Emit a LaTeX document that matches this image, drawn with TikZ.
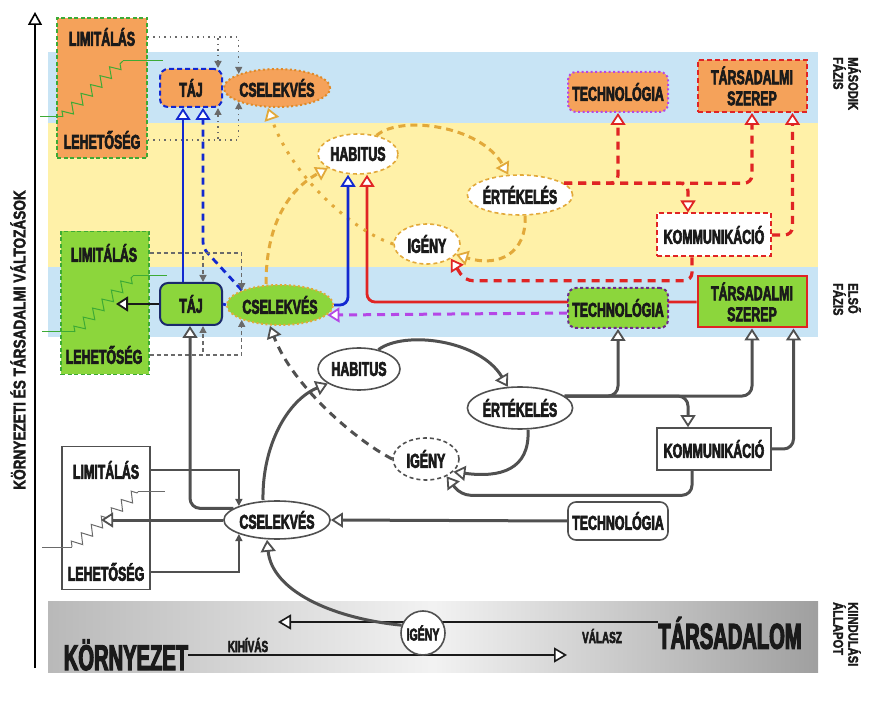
\documentclass[tikz,border=0pt]{standalone}
\usepackage{fontspec}
\setmainfont{Liberation Sans}
\newfontfamily\condfont{Liberation Sans Bold}[FakeStretch=0.62, FakeBold=3]
\newfontfamily\widecond{Liberation Sans Bold}[FakeStretch=0.80, FakeBold=2]
\newfontfamily\bigcond{Liberation Sans Bold}[FakeStretch=0.56, FakeBold=3]
\usetikzlibrary{positioning,calc,arrows.meta,shapes.geometric,backgrounds,decorations.pathmorphing}
\definecolor{bandblue}{HTML}{C8E4F5}
\definecolor{bandyellow}{HTML}{FFF1A8}
\definecolor{fillorange}{HTML}{F5A25A}
\definecolor{fillgreen}{HTML}{8CD63C}
\definecolor{linkgold}{HTML}{E2A93A}
\definecolor{darkorange}{HTML}{E08A28}
\definecolor{linkblue}{HTML}{1228D0}
\definecolor{linkred}{HTML}{E02424}
\definecolor{linkpurple}{HTML}{B547E6}
\definecolor{navy}{HTML}{1B2A6B}
\definecolor{boxgreen}{HTML}{3DAA35}
\definecolor{ink}{HTML}{1A1A1A}
\definecolor{ink2}{HTML}{505050}
\definecolor{ink3}{HTML}{6A6A6A}

\begin{document}
\begin{tikzpicture}[x=1pt, y=1pt,
  lab/.style={font=\condfont\fontsize{20}{21}\selectfont, text=ink, inner sep=0pt, align=center},
  labsm/.style={font=\condfont\fontsize{16}{17}\selectfont, text=ink, inner sep=0pt},
  sidelab/.style={font=\widecond\fontsize{14}{15}\selectfont, text=ink, align=left, rotate=-90, inner sep=0pt, anchor=west},
  rbox/.style={lab, rectangle, rounded corners=8pt, line width=2pt},
  sbox/.style={lab, rectangle, line width=1.6pt},
  oval/.style={lab, ellipse, line width=1.6pt},
  boxdash/.style={line width=1.8pt, dash pattern=on 4pt off 2.5pt},
  opentip/.style={-{Triangle[fill=white,line width=1.8pt,length=12pt,width=15pt]}},
  smalltip/.style={-{Triangle[length=7pt,width=7pt]}},
  blueline/.style={draw=linkblue, line width=2.8pt, opentip},
  bluedash/.style={blueline, dash pattern=on 7pt off 5pt},
  golddash/.style={draw=linkgold, line width=3pt, dash pattern=on 7pt off 5pt, opentip},
  golddot/.style={draw=linkgold, line width=3pt, dash pattern=on 3pt off 7pt, opentip},
  reddash/.style={draw=linkred, line width=3.2pt, dash pattern=on 8pt off 6pt, opentip},
  redline/.style={draw=linkred, line width=2.8pt, opentip},
  purpdash/.style={draw=linkpurple, line width=3pt, dash pattern=on 8pt off 6pt, opentip},
  grayline/.style={draw=ink2, line width=3pt, opentip},
  graydash/.style={grayline, dash pattern=on 8pt off 6pt},
  thindot/.style={draw=ink3, line width=1.4pt, dash pattern=on 1.5pt off 4pt, smalltip},
  thindash/.style={draw=ink3, line width=1.3pt, dash pattern=on 4pt off 3pt, smalltip},
  thinline/.style={draw=ink2, line width=1.3pt, smalltip},
  stairs/.style={line width=1pt, decoration={zigzag, segment length=13pt, amplitude=5pt}},
  flow/.style={draw=ink, line width=1.8pt, -{Triangle[fill=white,line width=1.6pt,length=13pt,width=15pt]}}]
\useasboundingbox (0,0) rectangle (876,-708);
% bands
\begin{scope}[on background layer]
\fill[bandblue] (48,-52) rectangle (818,-123);
\fill[bandyellow] (48,-123) rectangle (818,-267);
\fill[bandblue] (48,-267) rectangle (818,-337);
\shade[left color=gray!55, right color=gray!75, middle color=gray!10] (48,-601) rectangle (818,-672);
\end{scope}
% axis
\coordinate (axbot) at (35,-668);
\coordinate (axtop) at (35,-12);
\draw[line width=2pt, -{Triangle[fill=white,line width=1.6pt,length=13pt,width=14pt]}] (axbot) -- (axtop);
\node[font=\widecond\fontsize{17}{18}\selectfont, text=ink, rotate=90, inner sep=0pt] (axlab) at (18,-340) {KÖRNYEZETI ÉS TÁRSADALMI VÁLTOZÁSOK};
% phase labels
\node[sidelab] (phase2) at (847,-57) {MÁSODIK\\FÁZIS};
\node[sidelab] (phase1) at (847,-283) {ELSŐ\\FÁZIS};
\node[sidelab] (phase0) at (847,-602) {KIINDULÁSI\\ÁLLAPOT};
% second phase
\node[sbox, fill=fillorange, draw=boxgreen, boxdash, minimum width=90pt, minimum height=140pt] (limT) at (102,-88) {};
\draw[boxgreen, line width=1pt] (40,-117) -- (63,-117);
\draw[stairs, draw=boxgreen, decorate] (63,-117) -- (123,-61);
\draw[boxgreen, line width=1pt] (123,-61) -- (163,-61);
\node[lab] (limTa) at (102,-37) {LIMITÁLÁS};
\node[lab] (limTb) at (102,-140) {LEHETŐSÉG};
\node[rbox, fill=fillorange, draw=linkblue, dash pattern=on 5pt off 3pt, minimum width=62pt, minimum height=38pt] (tajT) at (191,-88) {TÁJ};
\node[oval, fill=fillorange, draw=darkorange, dash pattern=on 2pt off 2.5pt, line width=2pt, minimum width=84pt, minimum height=38pt] (cselT) at (277,-88) {CSELEKVÉS};
\node[oval, fill=white, draw=linkgold, dash pattern=on 4pt off 3pt, minimum width=80pt, minimum height=40pt] (habT) at (358,-154) {HABITUS};
\node[oval, fill=white, draw=linkgold, dash pattern=on 4pt off 3pt, minimum width=88pt, minimum height=40pt] (ertT) at (520,-195) {ÉRTÉKELÉS};
\node[oval, fill=white, draw=linkgold, dash pattern=on 4pt off 3pt, minimum width=66pt, minimum height=40pt] (igT) at (427,-244) {IGÉNY};
\node[rbox, fill=fillorange, draw=linkpurple, dash pattern=on 2pt off 2.5pt, minimum width=100pt, minimum height=40pt] (techT) at (618,-92) {TECHNOLÓGIA};
\node[sbox, fill=fillorange, draw=linkred, dash pattern=on 5pt off 3pt, line width=2pt, minimum width=109pt, minimum height=52pt] (szerT) at (752,-86) {TÁRSADALMI\\SZEREP};
\node[sbox, fill=white, draw=linkred, dash pattern=on 5pt off 3pt, line width=2pt, minimum width=114pt, minimum height=43pt] (kommT) at (714,-235) {KOMMUNIKÁCIÓ};
% first phase
\node[sbox, fill=fillgreen, draw=boxgreen, boxdash, minimum width=88pt, minimum height=143pt] (limE) at (105,-303) {};
\draw[boxgreen, line width=1pt] (42,-332) -- (75,-332);
\draw[stairs, draw=boxgreen, decorate] (75,-332) -- (133,-276);
\draw[boxgreen, line width=1pt] (133,-276) -- (167,-276);
\node[lab] (limEa) at (104,-253) {LIMITÁLÁS};
\node[lab] (limEb) at (104,-355) {LEHETŐSÉG};
\node[rbox, fill=fillgreen, draw=navy, minimum width=62pt, minimum height=42pt] (tajE) at (191,-304) {TÁJ};
\node[oval, fill=fillgreen, draw=linkgold, dash pattern=on 2pt off 2.5pt, line width=2pt, minimum width=84pt, minimum height=40pt] (cselE) at (280,-305) {CSELEKVÉS};
\node[rbox, fill=fillgreen, draw=linkpurple!60!black, dash pattern=on 3pt off 2.5pt, minimum width=100pt, minimum height=40pt] (techE) at (618,-308) {TECHNOLÓGIA};
\node[sbox, fill=fillgreen, draw=linkred, line width=2pt, minimum width=109pt, minimum height=51pt] (szerE) at (752,-302) {TÁRSADALMI\\SZEREP};
% starting state
\node[sbox, fill=white, draw=ink2, minimum width=88pt, minimum height=143pt] (limB) at (106,-518) {};
\draw[ink3, line width=1pt] (42,-547) -- (72,-547);
\draw[stairs, draw=ink3, decorate] (72,-547) -- (138,-492);
\draw[ink3, line width=1pt] (138,-492) -- (165,-492);
\node[lab] (limBa) at (106,-470) {LIMITÁLÁS};
\node[lab] (limBb) at (106,-572) {LEHETŐSÉG};
\node[oval, fill=white, draw=ink2, minimum width=82pt, minimum height=42pt] (habB) at (359,-369) {HABITUS};
\node[oval, fill=white, draw=ink2, minimum width=90pt, minimum height=42pt] (ertB) at (520,-408) {ÉRTÉKELÉS};
\node[oval, fill=white, draw=ink2, dash pattern=on 4pt off 3pt, minimum width=66pt, minimum height=42pt] (igB) at (426,-459) {IGÉNY};
\node[oval, fill=white, draw=ink2, minimum width=84pt, minimum height=38pt] (cselB) at (277,-520) {CSELEKVÉS};
\node[sbox, fill=white, draw=ink2, minimum width=114pt, minimum height=42pt] (kommB) at (714,-449) {KOMMUNIKÁCIÓ};
\node[rbox, fill=white, draw=ink2, line width=1.6pt, minimum width=100pt, minimum height=38pt] (techB) at (618,-521) {TECHNOLÓGIA};
% bottom band
\node[font=\bigcond\fontsize{36}{38}\selectfont, text=ink, inner sep=0pt] (korny) at (126,-655) {KÖRNYEZET};
\node[font=\bigcond\fontsize{36}{38}\selectfont, text=ink, inner sep=0pt] (tars) at (730,-633) {TÁRSADALOM};
\node[lab, circle, draw=ink2, line width=1.6pt, fill=white, minimum size=44pt, font=\condfont\fontsize{17}{18}\selectfont] (igenyC) at (423,-633) {IGÉNY};
\node[labsm] (kihivas) at (248,-645) {KIHÍVÁS};
\node[labsm] (valasz) at (602,-636) {VÁLASZ};
\coordinate (chal) at (278,-622);
\coordinate (resp) at (567,-655);
% links behind nodes
\begin{scope}[on background layer]
\draw[flow] (tars.west |- chal) -- (chal);
\draw[flow] (korny.east) -- (resp);
\draw[redline, rounded corners=8pt] (szerE.west) -| ($(habT.south)+(9,0)$);
\end{scope}
% links second phase
\draw[thindot] (limTa.east -| limT.east) -| ($(tajT.north east)+(-5,0)$);
\draw[thindot] (limTa.east -| limT.east) -| (cselT.north west);
\draw[thindot] (limTb.east -| limT.east) -| ($(tajT.south east)+(-5,0)$);
\draw[thindot] (limTb.east -| limT.east) -| (cselT.south west);
\draw[blueline] ($(tajE.north)+(-8,0)$) -- ($(tajT.south)+(-8,0)$);
\draw[bluedash, rounded corners=6pt] (cselE.north west) -- ($(tajT.south)+(12,-140)$) -- ($(tajT.south)+(12,0)$);
\draw[golddot] (igT.west) .. controls (355,-232) and (292,-178) .. ($(cselT.south)+(-9,0)$);
\draw[golddash] ($(cselE.north)+(-14,0)$) .. controls (266,-225) and (288,-190) .. (habT.205);
\draw[golddash] (habT.45) .. controls (400,-115) and (480,-125) .. (ertT.120);
\draw[golddash] ($(ertT.south)+(5,0)$) .. controls (527,-252) and (500,-268) .. (igT.-20);
\draw[reddash, rounded corners=8pt] (ertT.15) -| (techT.south);
\draw[reddash, rounded corners=8pt] (ertT.15) -| (szerT.south);
\draw[reddash, rounded corners=8pt] (ertT.15) -| ($(kommT.north)+(-26,0)$);
\draw[reddash, rounded corners=8pt] (kommT.east) -| ($(szerT.south east)+(-15,0)$);
\draw[reddash, rounded corners=8pt] ($(kommT.south)+(-22,0)$) |- ($(igT.south east)+(14,-22)$) -- (igT.south east);
% links first phase
\draw[blueline, rounded corners=8pt] (cselE.east) -| ($(habT.south)+(-10,0)$);
\draw[purpdash] ($(techE.west)+(0,-5)$) -- (cselE.-12);
\draw[draw=linkblue, line width=2.8pt] (tajE.east) -- (cselE.west);
\draw[draw=ink, line width=2.5pt, -{Triangle[fill=white,line width=1.8pt,length=12pt,width=15pt]}] (tajE.west) -- ($(tajE.west)+(-43,0)$);
\draw[thindash] (limEa.east -| limE.east) -| ($(tajE.north)+(12,0)$);
\draw[thindash] (limEa.east -| limE.east) -| (cselE.north west);
\draw[thindash] (limEb.east -| limE.east) -| ($(tajE.south)+(12,0)$);
\draw[thindash] (limEb.east -| limE.east) -| (cselE.south west);
% links starting state
\draw[grayline, rounded corners=10pt] (cselB.165) -| ($(tajE.south)+(-1,0)$);
\draw[graydash] (igB.west) .. controls (355,-440) and (292,-385) .. ($(cselE.south)+(-10,0)$);
\draw[grayline] ($(cselB.north)+(-14,0)$) .. controls (262,-445) and (288,-400) .. (habB.205);
\draw[grayline] (habB.45) .. controls (405,-330) and (480,-340) .. (ertB.120);
\draw[grayline] ($(ertB.south)+(8,0)$) .. controls (530,-470) and (500,-478) .. (igB.-25);
\draw[grayline, rounded corners=10pt] ($(kommB.south)+(-22,0)$) |- ($(igB.-40)+(14,-19)$) -- (igB.-40);
\draw[grayline, rounded corners=10pt] (ertB.15) -| (techE.south);
\draw[grayline, rounded corners=10pt] (ertB.15) -| (szerE.south);
\draw[grayline, rounded corners=10pt] (ertB.15) -| ($(kommB.north)+(-26,0)$);
\draw[grayline, rounded corners=10pt] (kommB.east) -| ($(szerE.south east)+(-14,0)$);
\draw[grayline] (techB.west) -- (cselB.east);
\draw[grayline] (cselB.west) -- ($(cselB.west)+(-122,0)$);
\draw[thinline] (limBa.east -| limB.east) -| (cselB.north west);
\draw[thinline] (limBb.east -| limB.east) -| (cselB.south west);
\draw[grayline] (igenyC.160) .. controls (330,-618) and (272,-590) .. ($(cselB.south)+(-10,0)$);
\end{tikzpicture}
\end{document}
